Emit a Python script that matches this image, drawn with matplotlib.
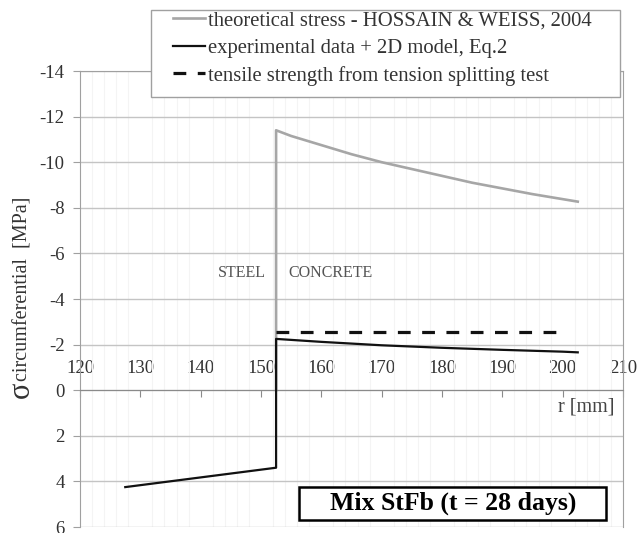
import numpy as np
import matplotlib.pyplot as plt
from matplotlib.ticker import MultipleLocator
from matplotlib.patches import Rectangle

plt.rcParams['font.family'] = ['Liberation Serif', 'DejaVu Serif']

# radial position [mm] and circumferential stress [MPa]
r_theory = [152.5, 152.5, 155, 160, 165, 170, 175, 180, 185, 190, 195, 200, 202.5]
s_theory = [0.0, -11.4, -11.15, -10.75, -10.35, -10.0, -9.7, -9.4, -9.1, -8.85, -8.6, -8.38, -8.27]

r_exp = [127.5, 152.5, 152.5, 160, 170, 180, 190, 200, 202.5]
s_exp = [4.25, 3.4, -2.25, -2.12, -1.97, -1.86, -1.77, -1.69, -1.66]

r_tensile = [152.5, 200.8]
s_tensile = [-2.55, -2.55]

x_ticks = [120, 130, 140, 150, 160, 170, 180, 190, 200, 210]
y_ticks = [-14, -12, -10, -8, -6, -4, -2, 0, 2, 4, 6]

fig = plt.figure(figsize=(6.42, 5.33), dpi=100)
ax = fig.add_axes([80/642, 1 - 527/533, 543/642, 456/533])

l1, = ax.plot(r_theory, s_theory, color='#a6a6a6', lw=1.9, zorder=3)
l2, = ax.plot(r_exp, s_exp, color='#111111', lw=1.6, zorder=4)
l3, = ax.plot(r_tensile, s_tensile, color='#111111', lw=2.3, dashes=(4, 3.6), zorder=4)

ax.set_xlim(120, 210)
ax.set_ylim(6, -14)
ax.set_xticks(x_ticks)
ax.set_yticks(y_ticks)
ax.set_yticklabels([str(v) for v in y_ticks])
ax.xaxis.set_minor_locator(MultipleLocator(2))

# horizontal grid plus faint minor verticals
ax.grid(axis='y', which='major', color='#c4c4c4', lw=1.0)
ax.grid(axis='x', which='minor', color='#f4f4f4', lw=0.8)
ax.set_axisbelow(True)

# x axis crosses at zero, labels sit above the line
ax.spines['bottom'].set_position(('data', 0))
ax.spines['bottom'].set_color('#8a8a8a')
for s in ['left', 'right', 'top']:
    ax.spines[s].set_color('#a0a0a0')
ax.tick_params(axis='x', which='major', direction='out', length=5, color='#8a8a8a',
               labelsize=13.5, labelcolor='#333333', pad=-27)
ax.tick_params(axis='x', which='minor', length=0)
ax.tick_params(axis='y', direction='out', length=5, color='#a0a0a0',
               labelsize=13.5, labelcolor='#333333', pad=6)

ax.text(146.8, -5.15, 'STEEL', ha='center', va='center', fontsize=11.5, color='#555555')
ax.text(161.5, -5.15, 'CONCRETE', ha='center', va='center', fontsize=11.5, color='#555555')
ax.text(208.6, 0.75, 'r [mm]', ha='right', va='center', fontsize=14.5, color='#444444')

# boxed mix label
ax.add_patch(Rectangle((0.403, 0.015), 0.566, 0.073, transform=ax.transAxes,
                       facecolor='white', edgecolor='black', lw=1.8, zorder=6))
ax.text(0.6865, 0.052, 'Mix StFb (t = 28 days)', transform=ax.transAxes, ha='center', va='center',
        fontsize=18.5, fontweight='bold', color='black', zorder=7)

# y label: large sigma followed by the subscript-like word
fig.text(21/642, 1 - 398/533, '\u03c3', rotation=90, ha='center', va='bottom',
         fontsize=22, color='#333333')
fig.text(23/642, 1 - 381/533, 'circumferential  [MPa]', rotation=90, ha='center', va='bottom',
         fontsize=14.5, color='#333333')

# legend frame drawn separately so it can overhang the plot
fig.add_artist(Rectangle((151/642, 1 - 97/533), 469/642, 87/533, transform=fig.transFigure,
                         facecolor='white', edgecolor='#a0a0a0', lw=1.0, zorder=5))
leg = fig.legend([l1, l2, l3],
                 ['theoretical stress - HOSSAIN & WEISS, 2004',
                  'experimental data + 2D model, Eq.2',
                  'tensile strength from tension splitting test'],
                 loc='upper left', bbox_to_anchor=(173/642, 1 - 11/533),
                 borderaxespad=0, borderpad=0, fontsize=14.9, handlelength=1.55,
                 handletextpad=0.15, labelspacing=0.38, frameon=False,
                 labelcolor='#333333')
leg.set_zorder(10)

fig.savefig('out.png', dpi=100)
